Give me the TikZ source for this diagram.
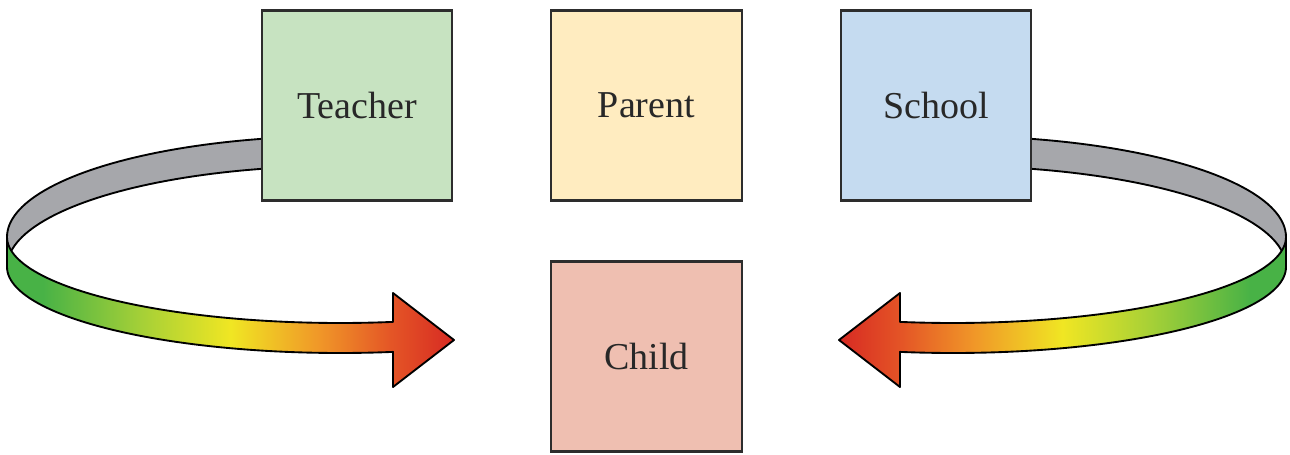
\documentclass[tikz,border=0pt]{standalone}
\usepackage{fontspec}
\setmainfont{Liberation Serif}
\definecolor{boxline}{RGB}{45,45,45}
\definecolor{txt}{RGB}{40,40,40}
\definecolor{ribgrey}{RGB}{166,167,171}
\definecolor{cteacher}{RGB}{199,227,193}
\definecolor{cparent}{RGB}{255,236,192}
\definecolor{cschool}{RGB}{197,219,240}
\definecolor{cchild}{RGB}{239,191,177}
\definecolor{rgreen}{RGB}{72,178,70}
\definecolor{rygreen}{RGB}{165,208,55}
\definecolor{ryellow}{RGB}{240,230,35}
\definecolor{rorange}{RGB}{240,150,40}
\definecolor{rredor}{RGB}{228,85,38}
\definecolor{rred}{RGB}{215,42,35}
\pgfdeclarehorizontalshading{ribbonL}{100bp}{color(0bp)=(rgreen); color(29bp)=(rgreen); color(40bp)=(rygreen); color(50bp)=(ryellow); color(60bp)=(rorange); color(68bp)=(rredor); color(75bp)=(rred); color(100bp)=(rred)}
\pgfdeclarehorizontalshading{ribbonR}{100bp}{color(0bp)=(rred); color(25bp)=(rred); color(32bp)=(rredor); color(40bp)=(rorange); color(50bp)=(ryellow); color(60bp)=(rygreen); color(71bp)=(rgreen); color(100bp)=(rgreen)}
\newcommand\ribbonpaths[1]{%
  \filldraw[ribbonline, fill=ribgrey]
    plot[domain=180:282, samples=60] ({340+333*cos(\x)},{237+101*sin(\x)})
    -- plot[domain=282:180, samples=60] ({340+333*cos(\x)},{267+101*sin(\x)}) -- cycle;
  \shadedraw[ribbonline, shading=#1]
    plot[domain=180:80.84, samples=60] ({340+333*cos(\x)},{237+86*sin(\x)})
    -- (393,293) -- (454,340) -- (393,387)
    -- plot[domain=80.84:180, samples=60] ({340+333*cos(\x)},{267+86*sin(\x)}) -- cycle;
}
\begin{document}
\begin{tikzpicture}[x=0.75pt, y=-0.75pt,
  ribbonline/.style={draw=black, line width=1.4pt, line join=round},
  box/.style={draw=boxline, line width=1.6pt, minimum width=143pt, minimum height=142.5pt,
    inner sep=0pt, text=txt, font=\fontsize{28.5}{34}\selectfont}]
\fill[white] (0,0) rectangle (1290,454);
\useasboundingbox (0,0) rectangle (1290,454);
\ribbonpaths{ribbonL}
\begin{scope}[x=-0.75pt, shift={(-1293,0)}]
\ribbonpaths{ribbonR}
\end{scope}
\node[box, fill=cteacher] (teacher) at (357,105.5) {Teacher};
\node[box, fill=cparent] (parent) at (646.5,105.5) {Parent};
\node[box, fill=cschool] (school) at (936,105.5) {School};
\node[box, fill=cchild] (child) at (646.5,356.5) {Child};
\end{tikzpicture}
\end{document}
